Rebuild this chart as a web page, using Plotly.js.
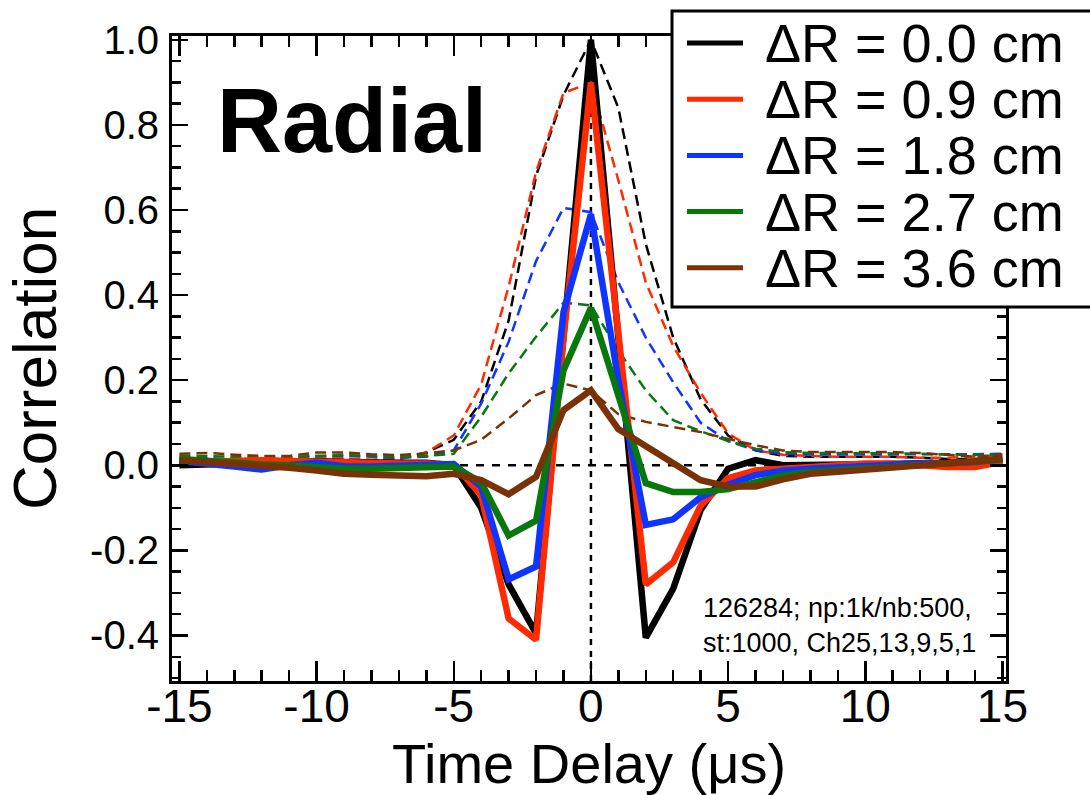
<!DOCTYPE html>
<html>
<head>
<meta charset="utf-8">
<script src="https://cdn.plot.ly/plotly-3.0.1.min.js"></script>
<style>html,body{margin:0;padding:0;background:#fff;}#chart{width:1090px;height:795px;}</style>
</head>
<body>
<div id="chart"></div>
<script>
// ---- data ----
const timeDelay = [-15,-14,-13,-12,-11,-10,-9,-8,-7,-6,-5,-4,-3,-2,-1,0,1,2,3,4,5,6,7,8,9,10,11,12,13,14,15];

const seriesLabels = ['ΔR = 0.0 cm','ΔR = 0.9 cm','ΔR = 1.8 cm','ΔR = 2.7 cm','ΔR = 3.6 cm'];

// solid curves (correlation)
const corr00 = [0.000,0.002,0.005,0.008,0.010,0.010,0.008,0.006,0.006,0.006,0.000,-0.100,-0.280,-0.395,0.300,1.000,0.300,-0.405,-0.290,-0.105,-0.008,0.012,0.000,0.000,0.002,0.003,0.003,0.005,0.006,0.008,0.012];
const corr09 = [0.008,0.008,0.010,0.012,0.010,0.008,0.006,0.005,0.004,0.004,0.002,-0.070,-0.360,-0.410,0.300,0.900,0.300,-0.280,-0.228,-0.095,-0.030,-0.012,-0.008,-0.004,0.000,0.004,0.004,0.000,-0.004,-0.004,0.008];
const corr18 = [0.010,0.005,-0.003,-0.010,0.000,0.006,-0.002,-0.003,-0.001,0.002,0.003,-0.050,-0.268,-0.238,0.360,0.590,0.200,-0.140,-0.127,-0.075,-0.045,-0.023,-0.013,-0.008,-0.004,0.000,0.004,0.005,0.005,0.008,0.015];
const corr27 = [0.015,0.010,0.005,0.002,0.000,-0.005,-0.008,-0.008,-0.007,-0.005,-0.003,-0.040,-0.165,-0.130,0.223,0.370,0.160,-0.042,-0.063,-0.063,-0.056,-0.040,-0.024,-0.016,-0.012,-0.008,-0.005,-0.002,0.002,0.008,0.013];
const corr36 = [0.012,0.008,0.003,-0.002,-0.006,-0.012,-0.020,-0.022,-0.025,-0.026,-0.020,-0.035,-0.068,-0.027,0.130,0.176,0.085,0.045,0.003,-0.035,-0.050,-0.050,-0.033,-0.020,-0.015,-0.010,-0.005,0.000,0.005,0.010,0.015];

// dashed curves
const dash00 = [0.012,0.010,0.010,0.010,0.012,0.015,0.015,0.012,0.015,0.030,0.060,0.150,0.340,0.680,0.870,1.000,0.840,0.520,0.300,0.155,0.070,0.035,0.022,0.020,0.020,0.020,0.020,0.018,0.015,0.015,0.020];
const dash09 = [0.015,0.015,0.013,0.012,0.012,0.016,0.016,0.013,0.014,0.030,0.070,0.190,0.420,0.690,0.875,0.900,0.670,0.430,0.280,0.170,0.075,0.035,0.025,0.022,0.020,0.020,0.020,0.018,0.018,0.020,0.022];
const dash18 = [0.018,0.016,0.015,0.015,0.018,0.022,0.022,0.020,0.018,0.020,0.035,0.145,0.290,0.480,0.605,0.595,0.430,0.300,0.195,0.100,0.057,0.035,0.027,0.026,0.026,0.026,0.025,0.025,0.026,0.026,0.027];
const dash27 = [0.022,0.022,0.020,0.018,0.018,0.022,0.024,0.022,0.020,0.022,0.027,0.114,0.216,0.302,0.382,0.376,0.270,0.176,0.106,0.080,0.057,0.039,0.031,0.029,0.029,0.029,0.028,0.027,0.025,0.024,0.025];
const dash36 = [0.027,0.029,0.025,0.022,0.022,0.030,0.030,0.026,0.024,0.028,0.035,0.060,0.110,0.165,0.192,0.176,0.120,0.102,0.090,0.078,0.062,0.047,0.035,0.031,0.031,0.031,0.031,0.029,0.024,0.020,0.026];

const xTickVals = [-15,-10,-5,0,5,10,15];
const xTickText = ['-15','-10','-5','0','5','10','15'];
const yTickVals = [-0.4,-0.2,0.0,0.2,0.4,0.6,0.8,1.0];
const yTickText = ['-0.4','-0.2','0.0','0.2','0.4','0.6','0.8','1.0'];

const infoText = '126284; np:1k/nb:500,<br>st:1000, Ch25,13,9,5,1';

// ---- build ----
const solids = [corr00, corr09, corr18, corr27, corr36];
const dashes = [dash00, dash09, dash18, dash27, dash36];
const colors = ['#000000','#ff2a00','#1034ff','#08780c','#783206'];
const FONT = 'Liberation Sans, Arial, Helvetica, sans-serif';

const traces = [];
dashes.forEach((d, i) => {
  traces.push({x: timeDelay, y: d, type: 'scatter', mode: 'lines', showlegend: false, hoverinfo: 'skip',
    line: {color: colors[i], width: 2.5, dash: '11px,6px'}});
});
solids.forEach((d, i) => {
  traces.push({x: timeDelay, y: d, type: 'scatter', mode: 'lines', name: seriesLabels[i], showlegend: false,
    line: {color: colors[i], width: 6.5}});
});

// plot-area pixel geometry (for custom legend placement)
const L = 172, R = 1006, T = 36, B = 681;
const px = v => (v - L) / (R - L);
const py = v => (B - v) / (B - T);

const shapes = [
  {type: 'line', xref: 'x', yref: 'paper', x0: 0, x1: 0, y0: 0, y1: 1, layer: 'below',
   line: {color: '#000', width: 2.5, dash: '6px,6px'}},
  {type: 'line', xref: 'paper', yref: 'y', x0: 0, x1: 1, y0: 0, y1: 0, layer: 'below',
   line: {color: '#000', width: 2.5, dash: '8px,8px'}},
  {type: 'rect', xref: 'paper', yref: 'paper', x0: px(672), x1: px(1095), y0: py(307), y1: py(11),
   fillcolor: '#fff', line: {color: '#000', width: 3}, layer: 'above'}
];
const annotations = [
  {xref: 'paper', yref: 'paper', x: px(352), y: py(121), xanchor: 'center', yanchor: 'middle', showarrow: false,
   text: '<b>Radial</b>', font: {family: FONT, size: 90, color: '#000'}},
  {xref: 'paper', yref: 'paper', x: px(978), y: py(625), xanchor: 'right', yanchor: 'middle', align: 'left', showarrow: false,
   text: infoText, font: {family: FONT, size: 27, color: '#000'}}
];
seriesLabels.forEach((lab, i) => {
  const yc = 43 + i * 56.2;
  shapes.push({type: 'line', xref: 'paper', yref: 'paper', x0: px(687), x1: px(743), y0: py(yc), y1: py(yc),
    line: {color: colors[i], width: 5}, layer: 'above'});
  annotations.push({xref: 'paper', yref: 'paper', x: px(763), y: py(yc), xanchor: 'left', yanchor: 'middle',
    showarrow: false, text: lab, font: {family: FONT, size: 54, color: '#000'}});
});

const layout = {
  width: 1090, height: 795,
  margin: {l: L, r: 1090 - R, t: T, b: 795 - B},
  paper_bgcolor: '#fff', plot_bgcolor: '#fff',
  font: {family: FONT, color: '#000'},
  xaxis: {
    range: [-15.27, 15.13], tickmode: 'array', tickvals: xTickVals, ticktext: xTickText,
    ticks: 'inside', ticklen: 20, tickwidth: 2.5, tickcolor: '#000',
    showline: true, linewidth: 3, linecolor: '#000', mirror: 'allticks',
    showgrid: false, zeroline: false, ticklabelstandoff: -17,
    tickfont: {family: FONT, size: 46, color: '#000'},
    minor: {tickmode: 'linear', tick0: 0, dtick: 1, ticks: 'inside', ticklen: 11, tickwidth: 2.5, tickcolor: '#000', showgrid: false},
    title: {text: 'Time Delay (μs)', font: {family: FONT, size: 56, color: '#000'}, standoff: 30}
  },
  yaxis: {
    range: [-0.507, 1.009], tickmode: 'array', tickvals: yTickVals, ticktext: yTickText,
    ticks: 'inside', ticklen: 16, tickwidth: 2.5, tickcolor: '#000',
    showline: true, linewidth: 3, linecolor: '#000', mirror: 'allticks',
    showgrid: false, zeroline: false, ticklabelstandoff: 2,
    tickfont: {family: FONT, size: 40, color: '#000'},
    minor: {tickmode: 'linear', tick0: 0, dtick: 0.05, ticks: 'inside', ticklen: 9, tickwidth: 2.5, tickcolor: '#000', showgrid: false},
    title: {text: 'Correlation', font: {family: FONT, size: 62, color: '#000'}, standoff: 16}
  },
  showlegend: false,
  shapes: shapes,
  annotations: annotations
};

Plotly.newPlot('chart', traces, layout, {displayModeBar: false, staticPlot: true});
</script>
</body>
</html>
